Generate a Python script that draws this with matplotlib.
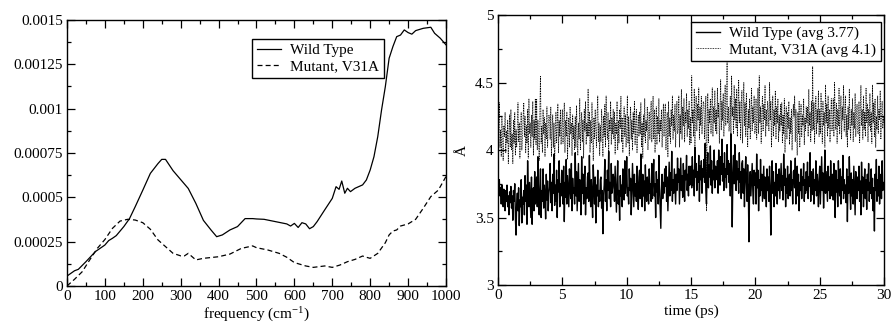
import numpy as np
import matplotlib
matplotlib.use("Agg")
import matplotlib.pyplot as plt
from matplotlib.ticker import MultipleLocator

plt.rcParams['font.family'] = ['Liberation Serif', 'DejaVu Serif']
plt.rcParams['mathtext.default'] = 'regular'

# ---- Left panel: spectra ----
wt_freq = [0, 20, 30, 50, 75, 100, 110, 120, 130, 150, 165, 180, 200, 220, 240, 250, 260,
           280, 300, 320, 340, 360, 380, 395, 410, 430, 450, 470, 490, 500, 520, 550, 580,
           590, 600, 610, 620, 630, 640, 650, 660, 680, 700, 710, 718, 725, 733, 740, 748,
           760, 780, 790, 800, 810, 820, 830, 840, 850, 860, 870, 880, 890, 900, 910, 920,
           940, 960, 970, 985, 1000]
wt_val = [0.000056, 0.000086, 0.000094, 0.000137, 0.000194, 0.000231, 0.000256, 0.000269,
          0.000284, 0.000335, 0.00038, 0.000447, 0.00054, 0.000635, 0.00069, 0.000714,
          0.000714, 0.00065, 0.0006, 0.00055, 0.000466, 0.00037, 0.000316, 0.000278,
          0.000288, 0.000316, 0.000335, 0.00038, 0.00038, 0.000378, 0.000376, 0.000363,
          0.00035, 0.000338, 0.000353, 0.00033, 0.000357, 0.00035, 0.000323, 0.000335,
          0.000363, 0.000429, 0.000494, 0.00056, 0.000545, 0.000592, 0.000523, 0.000551,
          0.000532, 0.000551, 0.00057, 0.000598, 0.000654, 0.000729, 0.000842, 0.000992,
          0.001124, 0.001284, 0.00135, 0.001406, 0.001415, 0.001444, 0.001429, 0.00142,
          0.00144, 0.001453, 0.001459, 0.001425, 0.001397, 0.00136]

mut_freq = [0, 20, 40, 60, 80, 100, 120, 140, 160, 180, 200, 220, 240, 260, 280, 300, 310,
            320, 340, 360, 400, 430, 460, 490, 500, 530, 560, 580, 600, 630, 650, 680, 700,
            720, 740, 760, 780, 790, 800, 820, 840, 850, 860, 870, 880, 900, 920, 940, 960,
            980, 1000]
mut_val = [0.0, 0.000038, 0.00008, 0.000147, 0.000212, 0.000262, 0.000325, 0.000366,
           0.000376, 0.000372, 0.000357, 0.00032, 0.00026, 0.000222, 0.000184, 0.00017,
           0.00017, 0.000184, 0.000147, 0.000156, 0.000165, 0.00018, 0.000212, 0.000226,
           0.000216, 0.000203, 0.000184, 0.000162, 0.000132, 0.000113, 0.000105, 0.000113,
           0.000105, 0.000118, 0.000137, 0.00015, 0.000169, 0.000162, 0.000156, 0.000184,
           0.000244, 0.000288, 0.00031, 0.000316, 0.000338, 0.00035, 0.000376, 0.000438,
           0.000504, 0.000541, 0.000617]

# ---- Right panel: distance time series (0 to 30 ps, every 0.05 ps) ----
wt_dist = [
 3.75,3.70,3.78,3.66,3.72,3.60,3.74,3.68,3.58,3.71,3.64,3.55,3.70,3.62,3.74,3.58,3.66,3.52,3.69,3.61,
 3.73,3.57,3.66,3.48,3.70,3.62,3.75,3.50,3.37,3.60,3.68,3.55,3.72,3.44,3.63,3.58,3.78,3.46,3.65,3.60,
 3.70,3.52,3.81,3.62,3.74,3.45,3.92,3.66,3.58,3.76,3.64,3.50,3.80,3.45,3.68,3.72,3.55,3.84,3.60,3.70,
 3.80,3.58,3.95,3.64,3.52,3.72,3.86,3.50,3.70,3.62,3.86,3.57,3.74,3.66,3.49,3.82,3.63,3.77,3.55,3.68,
 3.73,3.90,3.61,3.76,3.55,3.82,3.68,3.97,3.59,3.74,3.62,3.85,3.50,3.78,3.69,3.92,3.58,3.75,3.66,3.85,
 3.70,3.60,3.88,3.47,3.76,3.65,3.93,3.60,3.81,3.70,3.58,3.86,3.72,3.64,3.90,3.55,3.79,3.68,3.72,3.60,
 3.98,3.66,3.84,3.55,3.74,3.90,3.62,3.78,3.70,3.52,3.95,3.68,3.82,3.60,3.76,3.88,3.52,3.72,3.64,3.80,
 3.83,3.62,3.96,3.70,3.58,3.78,3.66,3.50,3.89,3.72,3.60,3.80,3.46,3.74,3.66,3.85,3.58,3.70,3.62,3.78,
 3.80,3.57,3.70,3.38,3.66,3.74,3.93,3.62,3.78,3.55,3.85,3.70,3.99,3.64,3.76,3.58,3.90,3.68,3.72,3.82,
 3.78,3.62,3.88,3.70,3.54,3.75,3.92,3.60,3.70,3.48,3.81,3.66,3.74,3.58,3.86,3.70,3.63,3.92,3.68,3.76,
 3.95,3.66,3.72,3.60,3.86,3.70,3.79,3.52,3.68,3.90,3.74,3.58,3.82,3.66,3.75,3.62,3.88,3.70,3.56,3.80,
 3.85,3.64,3.97,3.70,3.58,3.82,3.66,3.77,3.55,3.89,3.70,3.62,3.80,3.72,3.60,3.86,3.68,3.75,3.62,3.90,
 3.64,3.80,3.93,3.66,3.75,3.50,3.84,3.69,3.78,3.60,3.96,3.72,3.58,3.42,3.70,3.82,3.64,3.76,3.68,3.86,
 3.73,3.88,3.62,3.80,3.55,3.72,3.91,3.66,3.83,3.70,3.99,3.62,3.78,3.68,3.86,3.74,3.60,3.82,3.70,3.94,
 3.76,3.86,3.60,3.78,3.94,3.70,3.81,3.65,3.90,3.74,3.62,3.85,3.78,3.96,3.70,3.82,3.66,3.88,3.74,3.80,
 3.88,3.72,3.95,3.74,3.85,3.66,4.02,3.80,3.90,3.70,3.84,3.76,3.96,3.62,3.88,3.78,3.92,3.68,3.86,3.80,
 3.93,3.76,4.05,3.70,3.60,3.86,3.98,3.72,3.89,3.80,4.03,3.74,3.92,3.68,3.85,3.78,4.00,3.72,3.88,3.82,
 3.78,3.92,3.68,4.00,3.85,3.74,3.95,3.82,4.08,3.77,3.90,3.70,3.98,3.80,3.86,3.72,4.04,3.82,3.92,3.76,
 3.90,3.66,4.12,3.85,3.43,3.80,3.96,3.75,4.04,3.82,3.70,3.92,3.78,3.86,3.68,3.98,3.76,3.84,3.64,3.90,
 3.92,3.68,3.86,3.58,3.80,3.95,3.76,3.62,3.89,3.72,3.32,3.74,3.84,3.66,3.78,3.90,3.70,3.60,3.85,3.74,
 3.83,3.60,3.97,3.72,3.85,3.55,3.78,3.66,3.93,3.70,3.82,3.62,3.76,3.88,3.64,3.80,3.72,3.58,3.86,3.70,
 3.80,3.62,3.88,3.70,3.37,3.75,3.92,3.68,3.84,3.58,3.76,3.66,3.90,3.72,3.60,3.82,3.70,3.86,3.64,3.78,
 3.90,3.70,3.81,3.63,3.97,3.74,3.86,3.58,3.79,3.68,3.88,3.64,3.76,3.82,3.66,3.92,3.70,3.78,3.60,3.84,
 3.85,3.72,3.94,3.60,3.78,3.88,3.66,3.82,3.55,3.76,3.70,3.86,3.64,3.80,3.74,3.90,3.62,3.78,3.68,3.84,
 3.70,3.91,3.64,3.80,3.73,3.98,3.62,3.84,3.75,3.67,3.86,3.60,3.78,3.70,3.92,3.66,3.82,3.74,3.58,3.80,
 3.88,3.60,3.79,3.95,3.70,3.83,3.57,3.76,4.00,3.68,3.84,3.72,3.62,3.88,3.70,3.80,3.64,3.92,3.74,3.66,
 3.82,3.63,3.90,3.72,3.50,3.85,3.69,3.78,3.58,3.92,3.74,3.66,3.86,3.60,3.80,3.70,3.96,3.64,3.78,3.68,
 3.74,3.61,3.86,3.47,3.80,3.68,3.95,3.72,3.56,3.83,3.66,3.78,3.60,3.88,3.70,3.52,3.84,3.72,3.64,3.80,
 3.70,3.88,3.62,3.77,3.52,3.91,3.68,3.80,3.58,3.74,3.86,3.64,3.78,3.56,3.82,3.70,3.90,3.62,3.76,3.68,
 3.86,3.64,3.79,3.55,3.72,3.40,3.82,3.70,3.93,3.62,3.78,3.66,3.88,3.60,3.74,3.82,3.64,3.92,3.70,3.76,
 3.72]

mut_dist = [
 4.05,4.20,4.35,4.02,4.15,3.95,4.25,4.08,3.92,4.18,4.10,4.28,3.98,4.14,4.05,4.22,3.90,4.12,4.26,4.02,
 4.30,4.00,4.12,3.90,4.22,4.05,4.28,3.96,4.15,4.02,4.18,4.35,4.06,4.20,3.94,4.14,4.28,4.00,4.10,4.24,
 4.35,4.10,4.25,3.98,4.18,4.05,4.30,3.94,4.38,4.12,4.20,4.02,4.26,4.10,4.36,3.96,4.22,4.08,4.38,4.04,
 4.38,4.00,4.22,4.10,3.92,4.28,4.55,4.05,4.18,3.98,4.30,4.12,4.24,3.95,4.20,4.08,4.32,4.02,4.16,4.26,
 4.24,4.08,4.32,3.95,4.15,4.26,4.02,4.20,3.90,4.12,4.28,4.05,4.18,4.34,3.98,4.22,4.10,4.30,4.04,4.16,
 4.30,4.05,4.18,4.35,3.98,4.22,4.10,4.28,3.93,4.15,4.24,4.02,4.32,4.12,4.20,3.96,4.26,4.08,4.18,4.00,
 4.25,4.02,4.33,4.12,3.96,4.20,4.08,4.38,4.00,4.17,4.28,4.06,4.22,3.94,4.30,4.14,4.36,4.04,4.20,4.10,
 4.45,4.10,4.28,3.98,4.22,4.05,4.35,4.14,3.92,4.24,4.08,4.30,4.16,4.02,4.26,4.40,4.06,4.20,3.96,4.18,
 4.06,4.30,4.15,3.95,4.25,4.10,4.34,4.02,4.40,4.18,4.08,4.28,3.98,4.22,4.14,4.36,4.04,4.24,4.12,4.30,
 4.08,4.28,3.97,4.20,4.12,4.36,4.00,4.22,4.05,4.30,4.16,4.40,4.06,4.24,3.98,4.18,4.32,4.10,4.26,4.02,
 4.15,4.40,4.05,4.25,3.96,4.18,4.32,4.08,4.22,4.00,4.28,4.12,4.36,4.04,4.20,4.30,3.98,4.16,4.26,4.10,
 4.28,4.12,4.35,4.02,4.20,3.94,4.26,4.10,4.38,4.05,4.22,4.14,4.32,4.00,4.18,4.28,4.08,4.24,4.36,4.06,
 4.22,4.40,4.08,4.30,3.98,4.16,4.32,4.04,4.25,4.12,4.38,4.06,4.22,4.14,4.30,4.02,4.20,4.34,4.10,4.26,
 4.34,4.00,4.20,4.28,3.95,4.36,4.10,4.24,4.05,4.30,4.18,4.40,4.08,4.26,4.14,4.34,4.02,4.22,4.36,4.12,
 4.15,4.40,4.02,4.26,4.12,4.45,4.08,4.32,4.18,4.38,4.06,4.28,4.20,4.42,4.10,4.30,4.16,4.36,4.04,4.24,
 4.05,4.55,4.20,4.30,4.10,4.45,4.02,4.28,4.40,4.14,4.34,4.22,4.46,4.08,4.32,4.18,4.40,4.12,4.26,4.36,
 4.34,4.08,4.25,4.40,3.55,4.18,4.42,4.05,4.30,4.20,4.38,4.12,4.28,4.46,4.10,4.32,4.20,4.44,4.14,4.30,
 4.12,4.46,4.24,4.35,4.05,4.28,4.52,4.15,4.36,4.22,4.42,4.10,4.30,4.48,4.18,4.36,4.65,4.20,4.32,4.14,
 4.20,4.40,4.08,4.55,4.25,4.32,4.12,4.48,4.22,4.38,4.16,4.45,4.10,4.30,4.52,4.20,4.36,4.08,4.28,4.44,
 4.05,4.30,4.50,4.18,4.35,4.10,4.42,4.22,4.02,4.30,4.16,4.38,4.08,4.26,4.46,4.14,4.32,4.20,4.40,4.12,
 4.15,4.38,4.08,4.25,4.46,4.12,4.55,4.20,4.32,4.05,4.28,4.40,4.14,4.34,4.22,4.48,4.10,4.30,4.18,4.36,
 4.28,4.14,4.50,4.22,4.36,4.02,4.25,4.40,4.10,4.30,4.18,4.44,4.08,4.32,4.20,4.38,4.06,4.26,4.14,4.34,
 4.18,4.35,4.05,4.26,4.12,4.38,3.98,4.22,4.32,4.08,4.28,4.16,4.36,4.04,4.24,4.12,4.30,4.00,4.20,4.34,
 4.25,4.40,4.06,4.30,4.15,3.96,4.28,4.12,4.36,4.02,4.22,4.34,4.10,4.26,4.18,4.38,4.04,4.24,4.14,4.32,
 4.20,4.32,4.10,4.45,4.18,4.28,4.06,4.36,4.14,4.62,4.15,4.35,4.05,4.26,4.40,4.12,4.30,4.20,4.44,4.10,
 4.30,4.12,4.42,4.22,4.05,4.36,4.18,4.28,4.02,4.48,4.20,4.34,4.10,4.40,4.16,4.30,4.06,4.26,4.38,4.14,
 4.20,4.38,4.10,4.50,4.25,4.15,4.35,4.05,4.30,4.18,4.46,4.12,4.28,4.40,4.08,4.32,4.22,4.48,4.14,4.26,
 4.40,4.10,4.26,4.02,4.32,4.15,4.45,4.20,4.08,4.30,4.18,4.38,4.06,4.28,4.16,4.42,4.10,4.24,4.34,4.12,
 4.12,4.36,4.05,4.25,4.48,4.18,4.30,4.08,4.40,4.15,4.28,4.10,4.46,4.20,4.34,4.06,4.30,4.18,4.42,4.14,
 4.28,4.05,4.48,4.20,4.35,4.10,4.38,4.02,4.25,4.15,4.40,4.12,4.30,4.22,4.44,4.08,4.26,4.36,4.16,4.24,
 4.20]
time_ps = np.arange(len(wt_dist)) * 0.05

left_labels = ["Wild Type", "Mutant, V31A"]
right_labels = ["Wild Type (avg 3.77)", "Mutant, V31A (avg 4.1)"]

fig = plt.figure(figsize=(8.93, 3.27), dpi=100)
ax1 = fig.add_axes([0.075, 0.1254, 0.4244, 0.8135])
ax2 = fig.add_axes([0.5577, 0.1284, 0.4323, 0.8257])

FS = 11

ax1.plot(wt_freq, wt_val, color='black', lw=0.9, label=left_labels[0])
ax1.plot(mut_freq, mut_val, color='black', lw=0.9, ls=(0, (4, 2.5)), label=left_labels[1])
ax1.set_xlim(0, 1000)
ax1.set_ylim(0, 0.0015)
ax1.xaxis.set_major_locator(MultipleLocator(100))
ax1.xaxis.set_minor_locator(MultipleLocator(50))
ax1.yaxis.set_minor_locator(MultipleLocator(0.000125))
ax1.set_yticks([0, 0.00025, 0.0005, 0.00075, 0.001, 0.00125, 0.0015])
ax1.set_yticklabels(["0", "0.00025", "0.0005", "0.00075", "0.001", "0.00125", "0.0015"])
ax1.set_xlabel("frequency (cm$^{-1}$)", fontsize=FS, labelpad=2)
leg1 = ax1.legend(loc='upper right', bbox_to_anchor=(0.836, 0.929), fontsize=FS,
                  frameon=True, fancybox=False, edgecolor='black', framealpha=1,
                  handlelength=1.6, handletextpad=0.6, borderpad=0.3, labelspacing=0.15,
                  borderaxespad=0)
leg1.get_frame().set_linewidth(1.0)

ax2.plot(time_ps, wt_dist, color='black', lw=1.0, label=right_labels[0])
ax2.plot(time_ps, mut_dist, color='black', lw=0.6, ls=(0, (1, 1)), label=right_labels[1])
ax2.set_xlim(0, 30)
ax2.set_ylim(3, 5)
ax2.xaxis.set_major_locator(MultipleLocator(5))
ax2.xaxis.set_minor_locator(MultipleLocator(2.5))
ax2.yaxis.set_minor_locator(MultipleLocator(0.25))
ax2.set_yticks([3, 3.5, 4, 4.5, 5])
ax2.set_yticklabels(["3", "3.5", "4", "4.5", "5"])
ax2.set_xlabel("time (ps)", fontsize=FS, labelpad=2)
ax2.set_ylabel("Å", fontsize=FS, labelpad=4)
leg2 = ax2.legend(loc='upper right', bbox_to_anchor=(0.992, 0.974), fontsize=FS,
                  frameon=True, fancybox=False, edgecolor='black', framealpha=1,
                  handlelength=1.6, handletextpad=0.6, borderpad=0.3, labelspacing=0.15,
                  borderaxespad=0)
leg2.get_frame().set_linewidth(1.0)

for ax in (ax1, ax2):
    for s in ax.spines.values():
        s.set_linewidth(1.0)
    ax.tick_params(which='both', direction='in', top=True, right=True, labelsize=FS,
                   width=0.9, pad=3)
    ax.tick_params(which='major', length=6)
    ax.tick_params(which='minor', length=3)

fig.savefig("out.png", dpi=100)
